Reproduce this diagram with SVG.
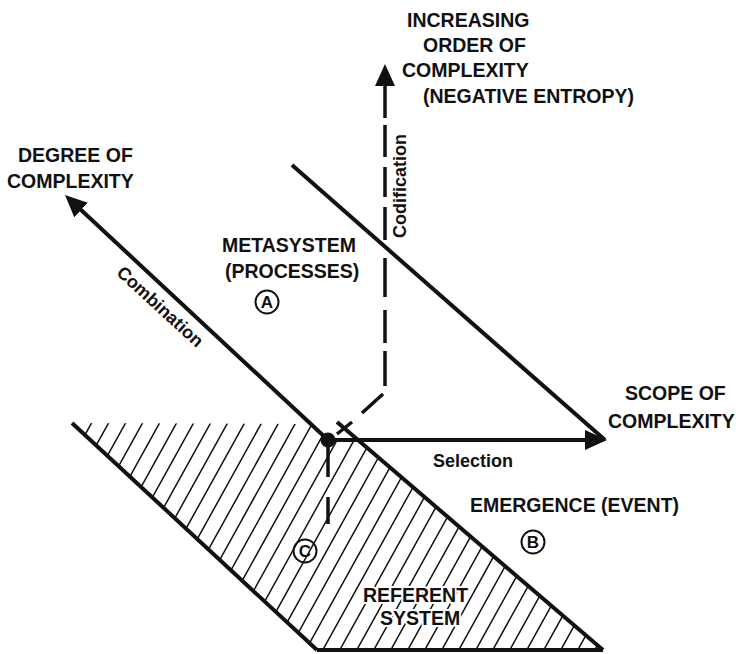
<svg xmlns="http://www.w3.org/2000/svg" width="741" height="654" viewBox="0 0 741 654">
<defs>
<style>
.t{font-family:"Liberation Sans",Arial,sans-serif;font-weight:bold;font-size:19.5px;fill:#111}
.halo{stroke:#fff;stroke-width:4;paint-order:stroke;stroke-linejoin:round}
.s{font-family:"Liberation Sans",Arial,sans-serif;font-weight:bold;font-size:18px;fill:#111}
.c{font-family:"Liberation Sans",Arial,sans-serif;font-weight:bold;font-size:17px;fill:#111;text-anchor:middle}
.ln{stroke:#111;fill:none;stroke-width:4}
.ds{stroke:#111;fill:none;stroke-width:3.5}
.h{stroke:#111;fill:none;stroke-width:1.5}
.cr{stroke:#111;fill:none;stroke-width:2}
</style>
<marker id="ah" viewBox="0 0 22 20" refX="12" refY="10" markerWidth="22" markerHeight="20" markerUnits="userSpaceOnUse" orient="auto">
<path d="M0,0 L22,10 L0,20 Z" fill="#111"/>
</marker>
<clipPath id="hc">
<polygon points="72,423 314,424 328,440 357,441 603,650 317,650"/>
</clipPath>
</defs>
<g id="referent-system">
<path class="h" clip-path="url(#hc)" d="M96,415 l-133,240 M113,415 l-133,240 M130,415 l-133,240 M147,415 l-133,240 M164,415 l-133,240 M181,415 l-133,240 M198,415 l-133,240 M215,415 l-133,240 M232,415 l-133,240 M249,415 l-133,240 M266,415 l-133,240 M283,415 l-133,240 M300,415 l-133,240 M317,415 l-133,240 M334,415 l-133,240 M351,415 l-133,240 M368,415 l-133,240 M385,415 l-133,240 M402,415 l-133,240 M419,415 l-133,240 M436,415 l-133,240 M453,415 l-133,240 M470,415 l-133,240 M487,415 l-133,240 M504,415 l-133,240 M521,415 l-133,240 M538,415 l-133,240 M555,415 l-133,240 M572,415 l-133,240 M589,415 l-133,240 M606,415 l-133,240 M623,415 l-133,240 M640,415 l-133,240 M657,415 l-133,240 M674,415 l-133,240 M691,415 l-133,240 M708,415 l-133,240 M725,415 l-133,240 M742,415 l-133,240"/>
<line class="ln" x1="72" y1="423" x2="317" y2="650"/>
<line class="ln" x1="337" y1="422" x2="603" y2="650"/>
<line class="ln" x1="317" y1="650" x2="603" y2="650" stroke-width="3"/>
<text class="t halo" x="363" y="602">REFERENT</text>
<text class="t halo" x="380" y="625">SYSTEM</text>
</g>
<g id="connectors">
<line class="ln" x1="328" y1="440" x2="72.3" y2="201.8" marker-end="url(#ah)"/>
<line class="ln" x1="328" y1="440" x2="597" y2="440" stroke-width="3.5" marker-end="url(#ah)"/>
<line class="ln" x1="292" y1="165" x2="605" y2="440" stroke-width="3"/>
<line class="ds" x1="385" y1="118" x2="385" y2="74" marker-end="url(#ah)"/>
<path class="ds" d="M385,125 L385,157 M385,167 L385,197 M385,207 L385,240 M385,258 L385,297 M385,310 L385,343 M385,351 L385,386 M383,394 L362,413 M352,422 L337,434 M328,446 L328,477 M328,497 L328,524"/>
<circle cx="328" cy="440" r="7.5" fill="#111"/>
<text class="s" transform="translate(156,311) rotate(42.4)" text-anchor="middle">Combination</text>
<text class="s" transform="translate(406,186) rotate(-90)" text-anchor="middle">Codification</text>
<text class="s" x="433" y="467">Selection</text>
</g>
<g id="degree-of-complexity">
<text class="t" x="18" y="162">DEGREE OF</text>
<text class="t" x="7" y="188">COMPLEXITY</text>
</g>
<g id="order-of-complexity">
<text class="t" x="407" y="27">INCREASING</text>
<text class="t" x="423" y="52">ORDER OF</text>
<text class="t" x="402" y="77">COMPLEXITY</text>
<text class="t" x="423" y="103">(NEGATIVE ENTROPY)</text>
</g>
<g id="scope-of-complexity">
<text class="t" x="625" y="400">SCOPE OF</text>
<text class="t" x="608" y="428">COMPLEXITY</text>
</g>
<g id="metasystem">
<text class="t" x="222" y="252">METASYSTEM</text>
<text class="t" x="225" y="278">(PROCESSES)</text>
<circle class="cr" cx="267" cy="302" r="11.5"/>
<text class="c" x="267" y="308">A</text>
</g>
<g id="emergence">
<text class="t" x="470" y="512">EMERGENCE (EVENT)</text>
<circle class="cr" cx="533" cy="542" r="11.5"/>
<text class="c" x="533" y="548">B</text>
</g>
<g id="point-c">
<circle class="cr" cx="305" cy="551" r="11.5" fill="#fff"/>
<text class="c" x="305" y="557">C</text>
</g>
</svg>
